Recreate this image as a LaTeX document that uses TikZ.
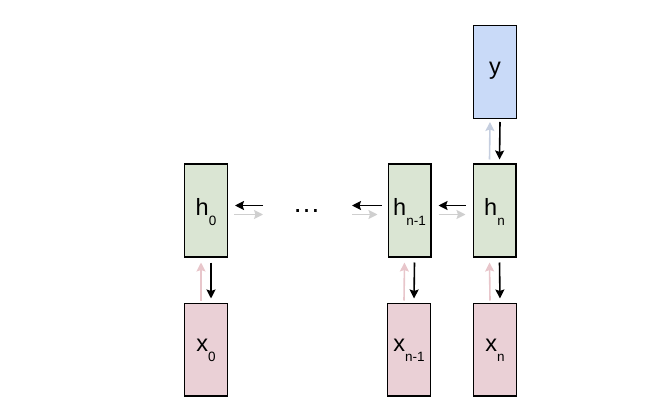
\documentclass[tikz,border=0pt]{standalone}
\usepackage{fontspec}
\setmainfont{Liberation Sans}
\usetikzlibrary{arrows.meta}
\definecolor{hgreen}{HTML}{DAE5D3}
\definecolor{ypurp}{HTML}{C9DAF8}
\definecolor{xpink}{HTML}{EAD0D6}
\definecolor{lgray}{HTML}{CFCFCF}
\definecolor{lpink}{HTML}{E8C6CB}
\definecolor{lblue}{HTML}{C5CEDF}
\newcommand{\sbs}[1]{\raisebox{-10pt}{\fontsize{13.5}{14}\selectfont #1}}
\begin{document}
\begin{tikzpicture}[x=1pt,y=-1pt,
  box/.style={draw=black, line width=1.4pt, minimum width=42.6pt, minimum height=92.6pt, inner sep=0pt, font=\fontsize{23.5}{26}\selectfont},
  hbox/.style={box, fill=hgreen, text height=10pt, text depth=0pt},
  xbox/.style={box, fill=xpink, text height=4pt, text depth=0pt},
  ybox/.style={box, fill=ypurp, text height=5pt, text depth=0pt},
  blk/.style={line width=1.6pt, draw=black, -{Stealth[length=9pt,width=9pt,inset=1.5pt]}},
  gry/.style={line width=1.6pt, draw=lgray, -{Stealth[length=9pt,width=9pt,inset=1.5pt]}},
  pnk/.style={line width=1.6pt, draw=lpink, -{Stealth[length=9pt,width=9pt,inset=1.5pt]}},
  blu/.style={line width=1.6pt, draw=lblue, -{Stealth[length=9pt,width=9pt,inset=1.5pt]}}
]
\useasboundingbox (0,0) rectangle (671,406);
\node[hbox] (h0) at (206,210.5) {h\sbs{0}};
\node[hbox] (hn1) at (409.5,210.5) {h\sbs{n-1}};
\node[hbox] (hn) at (494.5,210.5) {h\sbs{n}};
\node[ybox] (y) at (495,72) {y};
\node[xbox] (x0) at (206,349.5) {x\sbs{0}};
\node[xbox] (xn1) at (409,349.5) {x\sbs{n-1}};
\node[xbox] (xn) at (495,349.5) {x\sbs{n}};
\node[font=\fontsize{28}{30}\selectfont, anchor=base, inner sep=0pt] (dots) at (306.5,212.5) {…};
\coordinate (d1) at (352,210.5);
\coordinate (d2) at (263,210.5);
% horizontal
\draw[blk] ([shift={(-7,-5)}]hn.west) -- ([shift={(7,-5)}]hn1.east);
\draw[gry] ([shift={(7,4)}]hn1.east) -- ([shift={(-7,4)}]hn.west);
\draw[blk] ([shift={(-6,-5)}]hn1.west) -- ([shift={(0,-5)}]d1);
\draw[gry] ([shift={(0,4)}]d1) -- ([shift={(-10,4)}]hn1.west);
\draw[blk] ([shift={(0,-5)}]d2) -- ([shift={(7,-5)}]h0.east);
\draw[gry] ([shift={(6,4)}]h0.east) -- ([shift={(0,4)}]d2);
% vertical
\draw[blk] ([shift={(5,3)}]y.south) -- ([shift={(5,-4)}]hn.north);
\draw[blu] ([shift={(-5,-4)}]hn.north) -- ([shift={(-5,3)}]y.south);
\draw[blk] ([shift={(5,5)}]h0.south) -- ([shift={(5,-4)}]x0.north);
\draw[pnk] ([shift={(-5,-2)}]x0.north) -- ([shift={(-5,5)}]h0.south);
\draw[blk] ([shift={(5,5)}]hn1.south) -- ([shift={(5,-4)}]xn1.north);
\draw[pnk] ([shift={(-5,-2)}]xn1.north) -- ([shift={(-5,5)}]hn1.south);
\draw[blk] ([shift={(5,5)}]hn.south) -- ([shift={(5,-4)}]xn.north);
\draw[pnk] ([shift={(-5,-2)}]xn.north) -- ([shift={(-5,5)}]hn.south);
\end{tikzpicture}
\end{document}
